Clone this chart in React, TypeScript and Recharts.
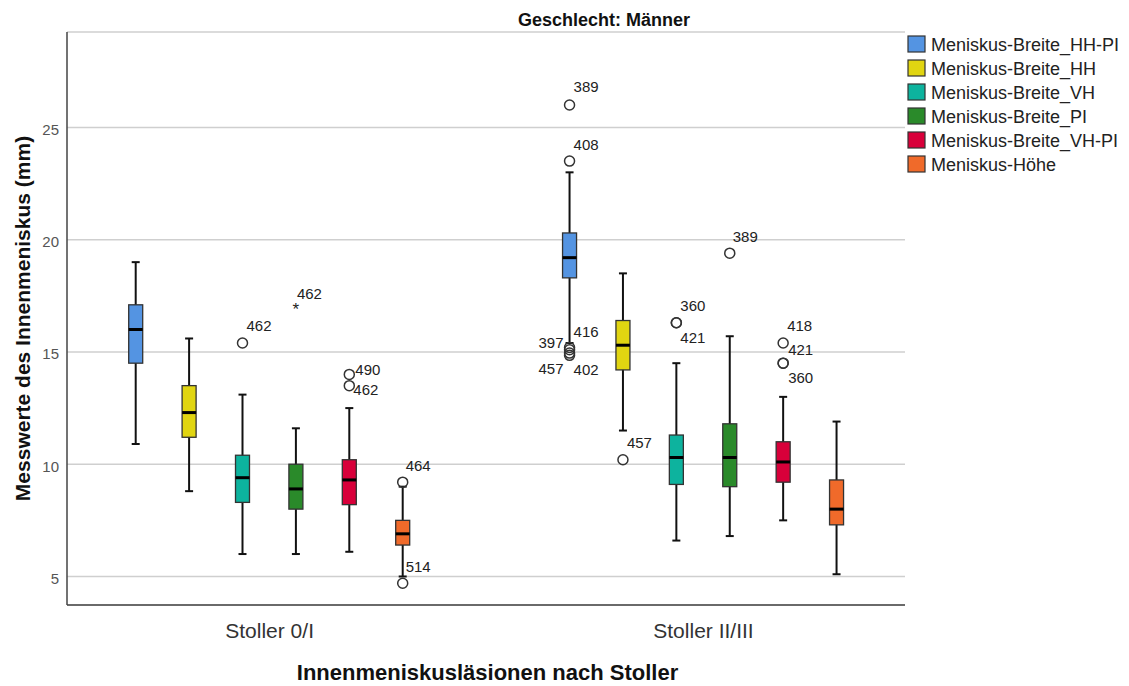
import { ComposedChart, Bar, XAxis, YAxis, CartesianGrid, Label } from 'recharts'

const FONT = '"Liberation Sans", Arial, sans-serif'

const categories = ['Stoller 0/I', 'Stoller II/III']

const seriesNames = [
  'Meniskus-Breite_HH-PI',
  'Meniskus-Breite_HH',
  'Meniskus-Breite_VH',
  'Meniskus-Breite_PI',
  'Meniskus-Breite_VH-PI',
  'Meniskus-Höhe'
]

const seriesColors = ['#5494e2', '#e1d511', '#0db39e', '#2a8a2a', '#d8003a', '#f06a2a']

// one row per series, columns = [Stoller 0/I, Stoller II/III]
const whiskerLow = [[10.9, 15.4], [8.8, 11.5], [6.0, 6.6], [6.0, 6.8], [6.1, 7.5], [5.0, 5.1]]
const quartile1 = [[14.5, 18.3], [11.2, 14.2], [8.3, 9.1], [8.0, 9.0], [8.2, 9.2], [6.4, 7.3]]
const medians = [[16.0, 19.2], [12.3, 15.3], [9.4, 10.3], [8.9, 10.3], [9.3, 10.1], [6.9, 8.0]]
const quartile3 = [[17.1, 20.3], [13.5, 16.4], [10.4, 11.3], [10.0, 11.8], [10.2, 11.0], [7.5, 9.3]]
const whiskerHigh = [[19.0, 23.0], [15.6, 18.5], [13.1, 14.5], [11.6, 15.7], [12.5, 13.0], [9.0, 11.9]]

// outliers (o) and extreme values (*) with their case numbers
const outliers = [
  { series: 2, group: 0, value: 15.4, caseNo: '462', extreme: false },
  { series: 3, group: 0, value: 16.9, caseNo: '462', extreme: true },
  { series: 4, group: 0, value: 14.0, caseNo: '490', extreme: false },
  { series: 4, group: 0, value: 13.5, caseNo: '462', extreme: false },
  { series: 5, group: 0, value: 9.2, caseNo: '464', extreme: false },
  { series: 5, group: 0, value: 4.7, caseNo: '514', extreme: false },
  { series: 0, group: 1, value: 26.0, caseNo: '389', extreme: false },
  { series: 0, group: 1, value: 23.5, caseNo: '408', extreme: false },
  { series: 0, group: 1, value: 15.2, caseNo: '416', extreme: false },
  { series: 0, group: 1, value: 15.1, caseNo: '397', extreme: false },
  { series: 0, group: 1, value: 14.95, caseNo: '402', extreme: false },
  { series: 0, group: 1, value: 14.85, caseNo: '457', extreme: false },
  { series: 1, group: 1, value: 10.2, caseNo: '457', extreme: false },
  { series: 2, group: 1, value: 16.3, caseNo: '360', extreme: false },
  { series: 2, group: 1, value: 16.3, caseNo: '421', extreme: false },
  { series: 3, group: 1, value: 19.4, caseNo: '389', extreme: false },
  { series: 4, group: 1, value: 15.4, caseNo: '418', extreme: false },
  { series: 4, group: 1, value: 14.5, caseNo: '421', extreme: false },
  { series: 4, group: 1, value: 14.5, caseNo: '360', extreme: false }
]

const yTicks = [5, 10, 15, 20, 25]

// where each case label sits next to its marker: [dx, dy, anchor]
const caseLabelOffsets: [number, number, 'start' | 'end'][] = [
  [4, -17, 'start'], [1, -16, 'start'], [6, -5, 'start'], [4, 4, 'start'],
  [3, -17, 'start'], [3, -17, 'start'], [4, -18, 'start'], [4, -17, 'start'],
  [4, -16, 'start'], [-6, -7, 'end'], [4, 16, 'start'], [-6, 13, 'end'],
  [4, -17, 'start'], [4, -17, 'start'], [4, 15, 'start'], [3, -17, 'start'],
  [4, -17, 'start'], [5, -14, 'start'], [5, 14, 'start']
]

const AXIS_MIN = 3.73
const AXIS_MAX = 29.25
const X_PADDING = { left: -14.3, right: -15.4 }

// slot index of every outlier within its own box
const slotCounter: Record<string, number> = {}
const outlierSlots = outliers.map((o) => {
  const key = `${o.series}_${o.group}`
  slotCounter[key] = (slotCounter[key] ?? -1) + 1
  return slotCounter[key]
})
const slotCount = Math.max(...outlierSlots) + 1
const slots = Array.from({ length: slotCount }, (_, k) => k)

const rows = categories.map((category, g) => {
  const row: Record<string, unknown> = { category }
  seriesNames.forEach((_, s) => {
    row[`w${s}`] = [whiskerLow[s][g], whiskerHigh[s][g]]
    row[`b${s}`] = [quartile1[s][g], quartile3[s][g]]
    row[`m${s}`] = [AXIS_MIN, medians[s][g]]
  })
  outliers.forEach((o, i) => {
    if (o.group === g) row[`o${o.series}_${outlierSlots[i]}`] = [AXIS_MIN, o.value]
  })
  return row
})

function WhiskerShape(props: any) {
  const { x, y, width, height } = props
  if (!Number.isFinite(y) || !Number.isFinite(height)) return <g />
  const cx = x + width / 2
  return (
    <g stroke="#111" strokeWidth={2}>
      <line x1={cx} x2={cx} y1={y} y2={y + height} />
      <line x1={cx - 4} x2={cx + 4} y1={y} y2={y} />
      <line x1={cx - 4} x2={cx + 4} y1={y + height} y2={y + height} />
    </g>
  )
}

function BoxShape(props: any) {
  const { x, y, width, height, fill } = props
  if (!Number.isFinite(y) || !Number.isFinite(height)) return <g />
  return <rect x={x} y={y} width={width} height={height} fill={fill} stroke="#333" strokeWidth={1.3} />
}

function MedianShape(props: any) {
  const { x, y, width } = props
  if (!Number.isFinite(y)) return <g />
  return <line x1={x} x2={x + width} y1={y} y2={y} stroke="#000" strokeWidth={3} />
}

function makeOutlierShape(series: number, slot: number) {
  return (props: any) => {
    const { x, y, width, payload } = props
    const g = categories.indexOf(payload?.category)
    const i = outliers.findIndex((o, j) => o.series === series && o.group === g && outlierSlots[j] === slot)
    if (i < 0 || !Number.isFinite(y)) return <g />
    const o = outliers[i]
    const cx = x + width / 2
    const [dx, dy, anchor] = caseLabelOffsets[i]
    return (
      <g>
        {o.extreme ? (
          <text x={cx} y={y + 6} textAnchor="middle" fontSize={17} fontFamily={FONT} fill="#222">*</text>
        ) : (
          <circle cx={cx} cy={y} r={5} fill="none" stroke="#333" strokeWidth={1.5} />
        )}
        <text
          x={cx + dx}
          y={y + dy}
          textAnchor={anchor}
          dominantBaseline="central"
          fontSize={15}
          fontFamily={FONT}
          fill="#222"
        >
          {o.caseNo}
        </text>
      </g>
    )
  }
}

const CategoryTick = ({ x, y, payload }: any) => (
  <text x={x} y={y + 31} textAnchor="middle" fontSize={21} fontFamily={FONT} fill="#333">
    {payload.value}
  </text>
)

const ValueTick = ({ x, y, payload }: any) => (
  <text x={x} y={y + 2} textAnchor="end" dominantBaseline="central" fontSize={15} fontFamily={FONT} fill="#555">
    {payload.value}
  </text>
)

export default function App() {
  return (
    <div style={{ position: 'absolute', left: 0, top: 0, width: 1129, height: 686, background: '#fff' }}>
      <ComposedChart
        width={1129}
        height={686}
        data={rows}
        margin={{ top: 32, right: 224, bottom: 31, left: 27 }}
        barSize={14}
        barGap={39.4}
      >
        <CartesianGrid xAxisId="b" vertical={false} stroke="#cfcfcf" strokeWidth={1.5} />
        <XAxis
          xAxisId="b"
          dataKey="category"
          padding={X_PADDING}
          height={50}
          tickLine={false}
          tickSize={0}
          axisLine={{ stroke: '#444', strokeWidth: 1.5 }}
          tick={<CategoryTick />}
        >
          <Label
            content={({ viewBox }: any) => (
              <text
                x={viewBox.x + viewBox.width / 2 + 1.5}
                y={680}
                textAnchor="middle"
                fontSize={22}
                fontWeight="bold"
                fontFamily={FONT}
                fill="#111"
              >
                Innenmeniskusläsionen nach Stoller
              </text>
            )}
          />
        </XAxis>
        <XAxis xAxisId="w" dataKey="category" padding={X_PADDING} hide />
        <XAxis xAxisId="m" dataKey="category" padding={X_PADDING} hide />
        {slots.map((k) => (
          <XAxis key={k} xAxisId={`o${k}`} dataKey="category" padding={X_PADDING} hide />
        ))}
        <YAxis
          type="number"
          domain={[AXIS_MIN, AXIS_MAX]}
          ticks={yTicks}
          allowDataOverflow
          width={40}
          tickLine={false}
          tickSize={0}
          tickMargin={8}
          axisLine={{ stroke: '#444', strokeWidth: 1.5 }}
          tick={<ValueTick />}
        >
          <Label
            content={({ viewBox }: any) => (
              <text
                transform={`translate(30, ${viewBox.y + viewBox.height / 2}) rotate(-90)`}
                textAnchor="middle"
                fontSize={21}
                fontWeight="bold"
                fontFamily={FONT}
                fill="#111"
              >
                Messwerte des Innenmeniskus (mm)
              </text>
            )}
          />
        </YAxis>

        {seriesNames.map((name, s) => (
          <Bar
            key={`w${s}`}
            xAxisId="w"
            dataKey={`w${s}`}
            name={name}
            shape={<WhiskerShape />}
            isAnimationActive={false}
          />
        ))}
        {seriesNames.map((name, s) => (
          <Bar
            key={`b${s}`}
            xAxisId="b"
            dataKey={`b${s}`}
            name={name}
            fill={seriesColors[s]}
            shape={<BoxShape />}
            isAnimationActive={false}
          />
        ))}
        {seriesNames.map((name, s) => (
          <Bar
            key={`m${s}`}
            xAxisId="m"
            dataKey={`m${s}`}
            name={name}
            shape={<MedianShape />}
            isAnimationActive={false}
          />
        ))}
        {slots.map((k) =>
          seriesNames.map((name, s) => (
            <Bar
              key={`o${s}_${k}`}
              xAxisId={`o${k}`}
              dataKey={`o${s}_${k}`}
              name={name}
              shape={makeOutlierShape(s, k)}
              isAnimationActive={false}
            />
          ))
        )}
      </ComposedChart>

      <svg width={1129} height={686} style={{ position: 'absolute', left: 0, top: 0, pointerEvents: 'none' }}>
        <text x={604} y={26} textAnchor="middle" fontSize={18} fontWeight="bold" fontFamily={FONT} fill="#111">
          Geschlecht: Männer
        </text>
        {seriesNames.map((name, s) => (
          <g key={name}>
            <rect x={908} y={36 + s * 24} width={17} height={16} fill={seriesColors[s]} stroke="#333" strokeWidth={1.2} />
            <text x={931} y={51 + s * 24} fontSize={18} fontFamily={FONT} fill="#222">
              {name}
            </text>
          </g>
        ))}
      </svg>
    </div>
  )
}
